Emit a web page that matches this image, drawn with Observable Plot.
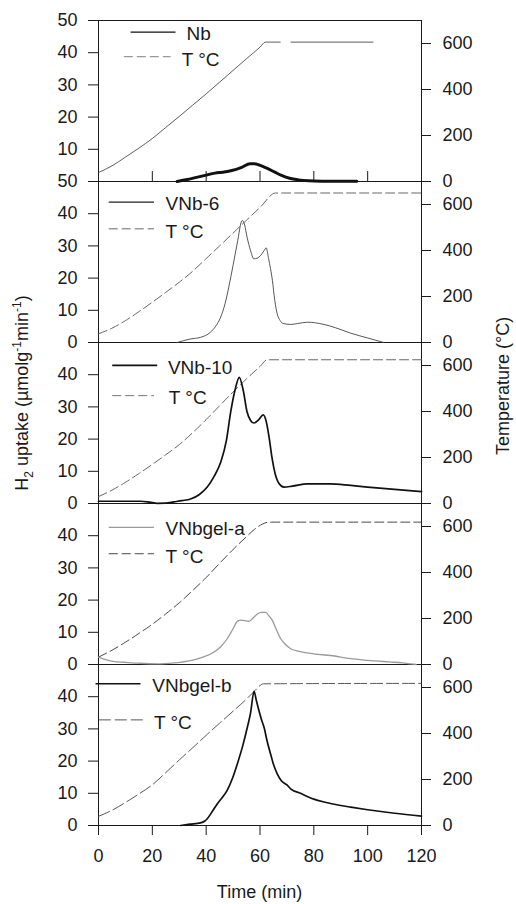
<!DOCTYPE html>
<html>
<head>
<meta charset="utf-8">
<script src="https://cdn.jsdelivr.net/npm/d3@7"></script>
<script src="https://cdn.jsdelivr.net/npm/@observablehq/plot@0.6"></script>
<style>
  body { margin: 0; background: #fff; }
  #chart svg { display: block; }
</style>
</head>
<body>
<div id="chart"></div>
<script>
// ---------- categories & ticks ----------
const panels = ["Nb", "VNb-6", "VNb-10", "VNbgel-a", "VNbgel-b"];
const timeTicks = [0, 20, 40, 60, 80, 100, 120];
const innerTimeTicks = [20, 40, 60, 80, 100];
const uptakeTicksTop = [10, 20, 30, 40, 50];
const uptakeTicksSecond = [0, 10, 20, 30, 40, 50];
const uptakeTicksRest = [0, 10, 20, 30, 40];
const tempTicks = [0, 200, 400, 600];
const tempLabel = "T °C";

// ---------- H2 uptake series: [time (min), uptake (µmol g-1 min-1)] ----------
const uptakeNb = [[29.2,0],[33,0.6],[36,1.2],[39.6,1.9],[43.3,2.6],[46,2.9],[49.5,3.4],[53.2,4.4],[56.3,5.5],[58,5.5],[59.4,5.2],[61,4.7],[63.1,3.9],[65.5,2.9],[68,1.9],[71,1.0],[74.2,0.5],[78,0.2],[83,0.1],[96,0.05]];
const uptakeVNb6 = [[29.2,0],[34.2,1.1],[37.9,1.6],[41.6,3.2],[43.5,5],[45.4,7.9],[47,12],[48.4,17.2],[50,24],[51.5,30.6],[53.4,37.9],[54.3,36.5],[55.2,32.7],[56.5,28.5],[57.7,26],[59,26.2],[60.2,27],[61.5,28.5],[62.3,29.4],[63.2,26],[64.6,19.3],[65.5,13],[66.4,8.9],[67.5,6.8],[68.3,6],[71.4,5.6],[74,5.9],[77.6,6.3],[83.8,5.6],[88,4.6],[93.7,2.9],[100,1.4],[106,0]];
const uptakeVNb10 = [[0,0.7],[15.6,0.7],[19,0.4],[21.8,0.05],[25,0.1],[28,0.5],[31,0.9],[34.2,1.4],[37.5,2.8],[40.4,5.1],[43,8.5],[45.4,12.8],[47.5,19.5],[49.1,28.4],[50.8,35.5],[52.3,39.2],[53.8,35],[55.2,28.4],[56.5,25.8],[57.7,25],[59.5,26],[61.2,27.5],[62.3,25.5],[63.3,21],[64.5,14],[65.8,8.7],[67,6.3],[68.9,5.1],[72,5.4],[77.6,6.1],[86,6.1],[93.7,5.6],[100,5.1],[110,4.4],[120,3.7]];
const uptakeVNbgelA = [[0,2.3],[3,1.4],[6,0.9],[9.5,0.7],[15,0.4],[21.8,0.2],[28,0.5],[34.2,1.2],[38.5,2.2],[42.8,3.8],[45.5,5.6],[47.8,8],[49.8,10.8],[51.6,13.4],[53,13.8],[55.9,13.4],[57.5,14.5],[59,15.7],[60.5,16.2],[62.1,16.2],[63.4,15],[64.6,13.7],[66,11],[67.7,8],[69.5,6.2],[71.4,4.9],[75,4],[80,3.3],[86.2,2.8],[93.7,1.8],[100,1.3],[108,0.8],[113,0.5],[116,0.2],[118,0]];
const uptakeVNbgelB = [[30.5,0],[34,0.4],[37.9,0.8],[39.5,1.4],[40.4,2.1],[42,4],[44.1,6.7],[46,8.7],[47.8,10.9],[49.7,14.5],[51.6,19.2],[53.5,24.5],[55.3,30.5],[56.5,35],[57.8,41.7],[58.6,39],[59.6,35.7],[60.5,33],[61.5,30.5],[62.7,26],[63.9,22.3],[65,19],[66.4,16],[68,13.8],[70,12.6],[71.4,11.4],[75,10],[80,8.2],[83.8,7.3],[90,6.2],[93.7,5.7],[100,4.9],[110,3.8],[120,2.9]];

// ---------- temperature series: [time (min), °C] ----------
const tempNbRamp = [[0,39],[5,68],[10,106],[15,145],[20,187],[25,235],[30,283],[35,332],[40,381],[45,432],[50,483],[55,534],[60,584],[62,606],[67.5,606]];
const tempNbHold = [[71.5,606],[102,606]];
const tempVNb6 = [[0,38],[5,62],[10,95],[15,134],[20,175],[25,218],[30,262],[35,310],[40,365],[45,420],[50,476],[55,532],[60,587],[65.8,650],[120,650]];
const tempVNb10 = [[0,30],[5,58],[10,92],[15,130],[20,170],[25,212],[30,256],[35,308],[40,365],[45,425],[50,485],[55,542],[60,596],[62.7,625],[120,625]];
const tempVNbgelA = [[0,32],[5,62],[10,97],[15,135],[20,175],[25,220],[30,268],[35,322],[40,378],[45,440],[50,500],[55,556],[58,588],[61,611],[63.2,619],[120,619]];
const tempVNbgelB = [[0,40],[5,66],[10,100],[15,137],[20,177],[25,230],[30,285],[35,338],[40,392],[45,445],[50,497],[55,550],[58,585],[61.3,616],[120,618]];

// ---------- assembly ----------
const tempToUptake = 50 / 700;  // right axis 0–700 °C over the 0–50 left axis
const rows = (panel, pairs, seg = 0) => pairs.map(([t, v]) => ({panel, t, v, seg}));
const tickRows = (panel, vals) => vals.map(v => ({panel, v}));

const uptakeSeries = {
  "Nb": uptakeNb, "VNb-6": uptakeVNb6, "VNb-10": uptakeVNb10,
  "VNbgel-a": uptakeVNbgelA, "VNbgel-b": uptakeVNbgelB
};
const tempSeries = {
  "Nb": [...rows("Nb", tempNbRamp, 0), ...rows("Nb", tempNbHold, 1)],
  "VNb-6": rows("VNb-6", tempVNb6), "VNb-10": rows("VNb-10", tempVNb10),
  "VNbgel-a": rows("VNbgel-a", tempVNbgelA), "VNbgel-b": rows("VNbgel-b", tempVNbgelB)
};

const leftTicks = [
  ...tickRows("Nb", uptakeTicksTop),
  ...tickRows("VNb-6", uptakeTicksSecond),
  ...tickRows("VNb-10", uptakeTicksRest),
  ...tickRows("VNbgel-a", uptakeTicksRest),
  ...tickRows("VNbgel-b", uptakeTicksRest)
];
const rightTicks = panels.flatMap(p => tickRows(p, tempTicks));
const innerTicks = innerTimeTicks.map(t => ({panel: "Nb", t}));

// ---------- styles & legend layout ----------
const styles = {
  "Nb":       {h2: {stroke: "#111", strokeWidth: 3},   h2L: {stroke: "#111", strokeWidth: 1.2},
               t: {stroke: "#333", strokeWidth: 0.8},  tL: {stroke: "#999", strokeWidth: 1.2, strokeDasharray: "9,4"}},
  "VNb-6":    {h2: {stroke: "#444", strokeWidth: 0.9}, h2L: {stroke: "#222", strokeWidth: 1.2},
               t: {stroke: "#555", strokeWidth: 0.9, strokeDasharray: "9,4"}, tL: {stroke: "#555", strokeWidth: 0.9, strokeDasharray: "9,4"}},
  "VNb-10":   {h2: {stroke: "#111", strokeWidth: 1.7}, h2L: {stroke: "#111", strokeWidth: 1.6},
               t: {stroke: "#555", strokeWidth: 0.9, strokeDasharray: "9,4"}, tL: {stroke: "#777", strokeWidth: 1, strokeDasharray: "9,4"}},
  "VNbgel-a": {h2: {stroke: "#9a9a9a", strokeWidth: 1.3}, h2L: {stroke: "#9a9a9a", strokeWidth: 1.4},
               t: {stroke: "#333", strokeWidth: 0.9, strokeDasharray: "9,4"}, tL: {stroke: "#333", strokeWidth: 0.9, strokeDasharray: "9,4"}},
  "VNbgel-b": {h2: {stroke: "#111", strokeWidth: 1.7}, h2L: {stroke: "#111", strokeWidth: 1.6},
               t: {stroke: "#444", strokeWidth: 0.9, strokeDasharray: "12,4"}, tL: {stroke: "#444", strokeWidth: 0.9, strokeDasharray: "12,4"}}
};
// legend placement in data units (time, uptake): [x1, x2, y] for sample lines, [x, y] for labels
const legendLayout = {
  "Nb":       {line: [11.9, 28.6, 46.4], text: [32.7, 45.8], tline: [9.4, 26.8, 38.8], ttext: [30.9, 37.8]},
  "VNb-6":    {line: [3.8, 20.6, 43.6],  text: [24.9, 43.1], tline: [3.8, 20.6, 35.3], ttext: [24.9, 34.3]},
  "VNb-10":   {line: [5.1, 21.8, 42.9],  text: [25.8, 42.0], tline: [5.1, 20.6, 33.5], ttext: [26.1, 32.8]},
  "VNbgel-a": {line: [3.8, 20.6, 42.6],  text: [24.9, 42.1], tline: [3.8, 20.6, 34.4], ttext: [24.9, 33.4]},
  "VNbgel-b": {line: [-1.1, 15.6, 44.0], text: [20.0, 43.2], tline: [0.1, 16.8, 32.8], ttext: [20.6, 31.8]}
};

const plotW = 516 - 98 - 95;
const ink = "#1a1a1a";

const marks = [
  Plot.frame({stroke: ink, strokeWidth: 1}),
  // left ticks + labels
  Plot.ruleY(leftTicks, {fy: "panel", y: "v", insetLeft: -10, insetRight: plotW, stroke: ink}),
  Plot.text(leftTicks, {fy: "panel", y: "v", text: d => String(d.v), frameAnchor: "left", textAnchor: "end", dx: -21, fontSize: 18, fill: ink}),
  // right (temperature) ticks + labels
  Plot.ruleY(rightTicks, {fy: "panel", y: d => d.v * tempToUptake, insetLeft: plotW, insetRight: -10, stroke: ink}),
  Plot.text(rightTicks, {fy: "panel", y: d => d.v * tempToUptake, text: d => String(d.v), frameAnchor: "right", textAnchor: "start", dx: 21, fontSize: 18, fill: ink}),
  // inward time ticks on top panel
  Plot.ruleX(innerTicks, {fy: "panel", x: "t", insetTop: 151, stroke: ink})
];

for (const p of panels) {
  const s = styles[p];
  const L = legendLayout[p];
  marks.push(
    Plot.line(tempSeries[p], {fy: "panel", x: "t", y: d => d.v * tempToUptake, z: "seg", curve: "monotone-x", ...s.t}),
    Plot.line(rows(p, uptakeSeries[p]), {fy: "panel", x: "t", y: "v", curve: "monotone-x", strokeLinejoin: "round", ...s.h2}),
    Plot.link([{panel: p}], {fy: "panel", x1: () => L.line[0], x2: () => L.line[1], y1: () => L.line[2], y2: () => L.line[2], ...s.h2L}),
    Plot.text([{panel: p}], {fy: "panel", x: () => L.text[0], y: () => L.text[1], text: () => p, textAnchor: "start", fontSize: 19, fill: ink}),
    Plot.link([{panel: p}], {fy: "panel", x1: () => L.tline[0], x2: () => L.tline[1], y1: () => L.tline[2], y2: () => L.tline[2], ...s.tL}),
    Plot.text([{panel: p}], {fy: "panel", x: () => L.ttext[0], y: () => L.ttext[1], text: () => tempLabel, textAnchor: "start", fontSize: 19, fill: ink})
  );
}

const chart = Plot.plot({
  width: 516,
  height: 904,
  marginLeft: 98,
  marginRight: 95,
  marginTop: 20,
  marginBottom: 79,
  style: {fontFamily: "'Liberation Sans', Arial, sans-serif", fontSize: "18px", color: ink, background: "#fff"},
  x: {domain: [0, 120], ticks: timeTicks, tickSize: 10, tickPadding: 14, label: null},
  y: {domain: [0, 50], axis: null},
  fy: {domain: panels, padding: 0, axis: null},
  marks
});

document.getElementById("chart").appendChild(chart);

// axis titles (with sub/superscripts)
const svg = d3.select(chart.tagName.toLowerCase() === "svg" ? chart : chart.querySelector("svg"));
const yTitle = svg.append("text")
  .attr("transform", "translate(28,393) rotate(-90)")
  .attr("text-anchor", "middle")
  .attr("fill", ink)
  .style("font-size", "18px");
yTitle.append("tspan").text("H");
yTitle.append("tspan").attr("dy", 5).style("font-size", "12px").text("2");
yTitle.append("tspan").attr("dy", -5).text(" uptake (µmolg");
yTitle.append("tspan").attr("dy", -7).style("font-size", "12px").text("-1");
yTitle.append("tspan").attr("dy", 7).text("min");
yTitle.append("tspan").attr("dy", -7).style("font-size", "12px").text("-1");
yTitle.append("tspan").attr("dy", 7).text(")");

svg.append("text")
  .attr("transform", "translate(509,386) rotate(-90)")
  .attr("text-anchor", "middle")
  .attr("fill", ink)
  .style("font-size", "18px")
  .text("Temperature (°C)");

svg.append("text")
  .attr("x", 98 + plotW / 2)
  .attr("y", 898)
  .attr("text-anchor", "middle")
  .attr("fill", ink)
  .style("font-size", "18px")
  .text("Time (min)");
</script>
</body>
</html>
